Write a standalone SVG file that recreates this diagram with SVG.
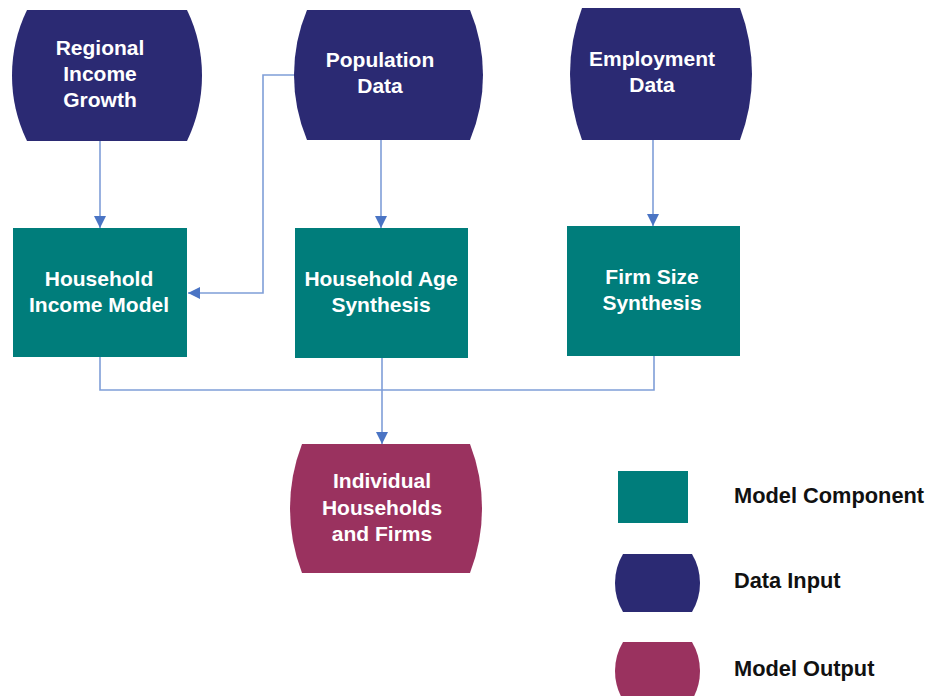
<svg xmlns="http://www.w3.org/2000/svg" width="925" height="696" viewBox="0 0 925 696">
<style>
.data{fill:#2b2a73}
.comp{fill:#007d7b}
.out{fill:#9a325f}
.lbl{font-family:"Liberation Sans",Arial,sans-serif;font-weight:bold;font-size:21px;fill:#ffffff;text-anchor:middle}
.leg{font-family:"Liberation Sans",Arial,sans-serif;font-weight:bold;font-size:21.8px;fill:#111111}
.conn{fill:none;stroke:#7f9ed8;stroke-width:1.6}
</style>
<defs>
<marker id="arr" viewBox="0 0 12 12" refX="12" refY="6" markerWidth="12" markerHeight="12" markerUnits="userSpaceOnUse" orient="auto">
<path d="M0,0 L12,6 L0,12 Z" fill="#4a74c4"/>
</marker>
</defs>
<rect width="925" height="696" fill="#ffffff"/>
<g id="connectors">
<path class="conn" d="M100,141 V228" marker-end="url(#arr)"/>
<path class="conn" d="M381,140 V228" marker-end="url(#arr)"/>
<path class="conn" d="M653,140 V226" marker-end="url(#arr)"/>
<path class="conn" d="M295,75 H263 V293 H188" marker-end="url(#arr)"/>
<path class="conn" d="M100,357 V390 H654 V356"/>
<path class="conn" d="M382,358 V444" marker-end="url(#arr)"/>
</g>
<g id="regional-income-growth">
<path class="data" d="M27,10 L187,10 A150.5,150.5 0 0 1 187,141 L27,141 A150.5,150.5 0 0 1 27,10 Z"/>
<text class="lbl" x="100" y="55">Regional</text>
<text class="lbl" x="100" y="81">Income</text>
<text class="lbl" x="100" y="107">Growth</text>
</g>
<g id="population-data">
<path class="data" d="M307,10 L470,10 A169,169 0 0 1 470,140 L307,140 A169,169 0 0 1 307,10 Z"/>
<text class="lbl" x="380" y="67">Population</text>
<text class="lbl" x="380" y="93">Data</text>
</g>
<g id="employment-data">
<path class="data" d="M582,8 L740,8 A187.5,187.5 0 0 1 740,140 L582,140 A187.5,187.5 0 0 1 582,8 Z"/>
<text class="lbl" x="652" y="66">Employment</text>
<text class="lbl" x="652" y="92">Data</text>
</g>
<g id="household-income-model">
<rect class="comp" x="13" y="228" width="174" height="129"/>
<text class="lbl" x="99" y="286">Household</text>
<text class="lbl" x="99" y="312">Income Model</text>
</g>
<g id="household-age-synthesis">
<rect class="comp" x="295" y="228" width="173" height="130"/>
<text class="lbl" x="381" y="286">Household Age</text>
<text class="lbl" x="381" y="312">Synthesis</text>
</g>
<g id="firm-size-synthesis">
<rect class="comp" x="567" y="226" width="173" height="130"/>
<text class="lbl" x="652" y="284">Firm Size</text>
<text class="lbl" x="652" y="310">Synthesis</text>
</g>
<g id="individual-households-and-firms">
<path class="out" d="M302,444 L470,444 A179,179 0 0 1 470,573 L302,573 A179,179 0 0 1 302,444 Z"/>
<text class="lbl" x="382" y="488">Individual</text>
<text class="lbl" x="382" y="515">Households</text>
<text class="lbl" x="382" y="541">and Firms</text>
</g>
<g id="legend-model-component">
<rect class="comp" x="618" y="471" width="70" height="52"/>
<text class="leg" x="734" y="503">Model Component</text>
</g>
<g id="legend-data-input">
<path class="data" d="M623,554 L692,554 A56.6,56.6 0 0 1 692,612 L623,612 A56.6,56.6 0 0 1 623,554 Z"/>
<text class="leg" x="734" y="588">Data Input</text>
</g>
<g id="legend-model-output">
<path class="out" d="M623,642 L692,642 A56.6,56.6 0 0 1 692,700 L623,700 A56.6,56.6 0 0 1 623,642 Z"/>
<text class="leg" x="734" y="676">Model Output</text>
</g>
</svg>
